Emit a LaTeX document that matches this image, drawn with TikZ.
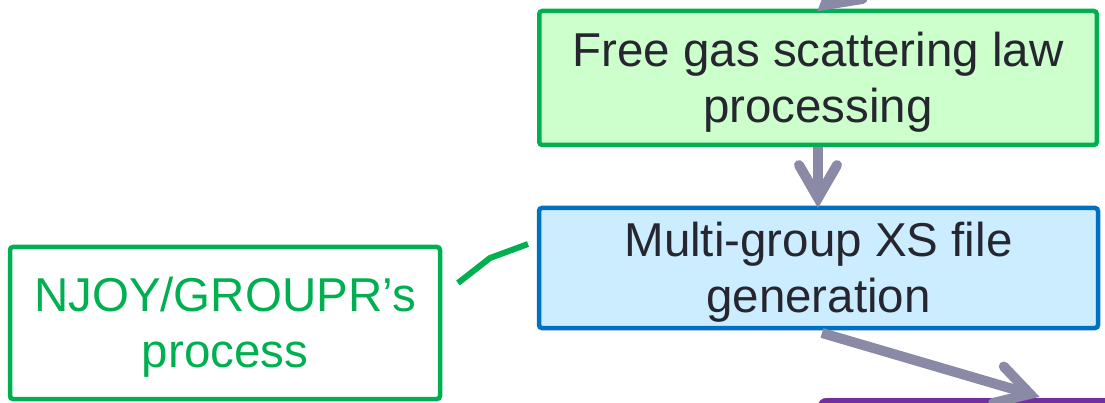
\documentclass[tikz,border=0pt]{standalone}
\usepackage{fontspec}
\setmainfont{Liberation Sans}
\usetikzlibrary{calc}

\definecolor{boxgreen}{RGB}{0,176,80}
\definecolor{fillgreen}{RGB}{204,255,204}
\definecolor{boxblue}{RGB}{0,112,192}
\definecolor{fillblue}{RGB}{204,236,255}
\definecolor{flowgrey}{RGB}{138,138,166}
\definecolor{textdark}{RGB}{38,38,48}
\definecolor{boxpurple}{RGB}{112,48,160}

\tikzset{
  stepbox/.style={rectangle, rounded corners=3pt, line width=4.5pt, inner sep=0pt},
  steptext/.style={align=center, inner sep=0pt,
    font=\fontsize{47.5}{56}\selectfont},
  flow/.style={draw=flowgrey, line width=10pt},
  link/.style={draw=boxgreen, line width=6pt, line join=round},
}

% thick grey flow arrow with an open chevron head
\newcommand\flowarrow[2]{%
  \draw[flow, line cap=butt] (#1) -- (#2);
  \draw[flow, line cap=round, line join=miter]
    ($(#2)!38pt!30:(#1)$) -- (#2) -- ($(#2)!38pt!-30:(#1)$);
}

\begin{document}
\begin{tikzpicture}[x=1pt,y=-1pt]
\useasboundingbox (0,0) rectangle (1105,403);
\clip (0,0) rectangle (1105,403);

% process boxes
\node[stepbox, draw=boxgreen, fill=fillgreen,
      minimum width=557.5pt, minimum height=134pt] (gas) at (818,78) {};
\node[steptext, text=textdark] (gas-label) at ($(gas.center)+(0,4)$)
      {Free gas scattering law\\processing};
\node[stepbox, draw=boxblue, fill=fillblue,
      minimum width=559pt, minimum height=120pt] (xs) at (818.5,268) {};
\node[steptext, text=textdark] (xs-label) at ($(xs.center)+(0,4)$)
      {Multi-group XS file\\generation};
\node[stepbox, draw=boxgreen, fill=white,
      minimum width=430pt, minimum height=152pt] (njoy) at (225,323) {};
\node[steptext, text=boxgreen] (njoy-label) at ($(njoy.center)+(0,4)$)
      {NJOY/GROUPR’s\\process};
\node[rectangle, rounded corners=8pt, fill=boxpurple, draw=boxpurple,
      minimum width=300pt, minimum height=80pt, anchor=north west] (out) at (818,398) {};

% callout from the NJOY label to the XS step
\coordinate (l1) at (458,283);
\coordinate (l2) at (528,244);
\draw[link] (l1) -- (490,258) -- (l2);

% flow arrows
\coordinate (src) at (981,-122);
\coordinate (gasin) at (825,5);
\flowarrow{src}{gasin}
\coordinate (gasout) at (818,147);
\coordinate (xsin) at (818,198);
\flowarrow{gasout}{xsin}
\coordinate (xsout) at (822,333);
\coordinate (outin) at (1030,394);
\flowarrow{xsout}{outin}
\end{tikzpicture}
\end{document}
